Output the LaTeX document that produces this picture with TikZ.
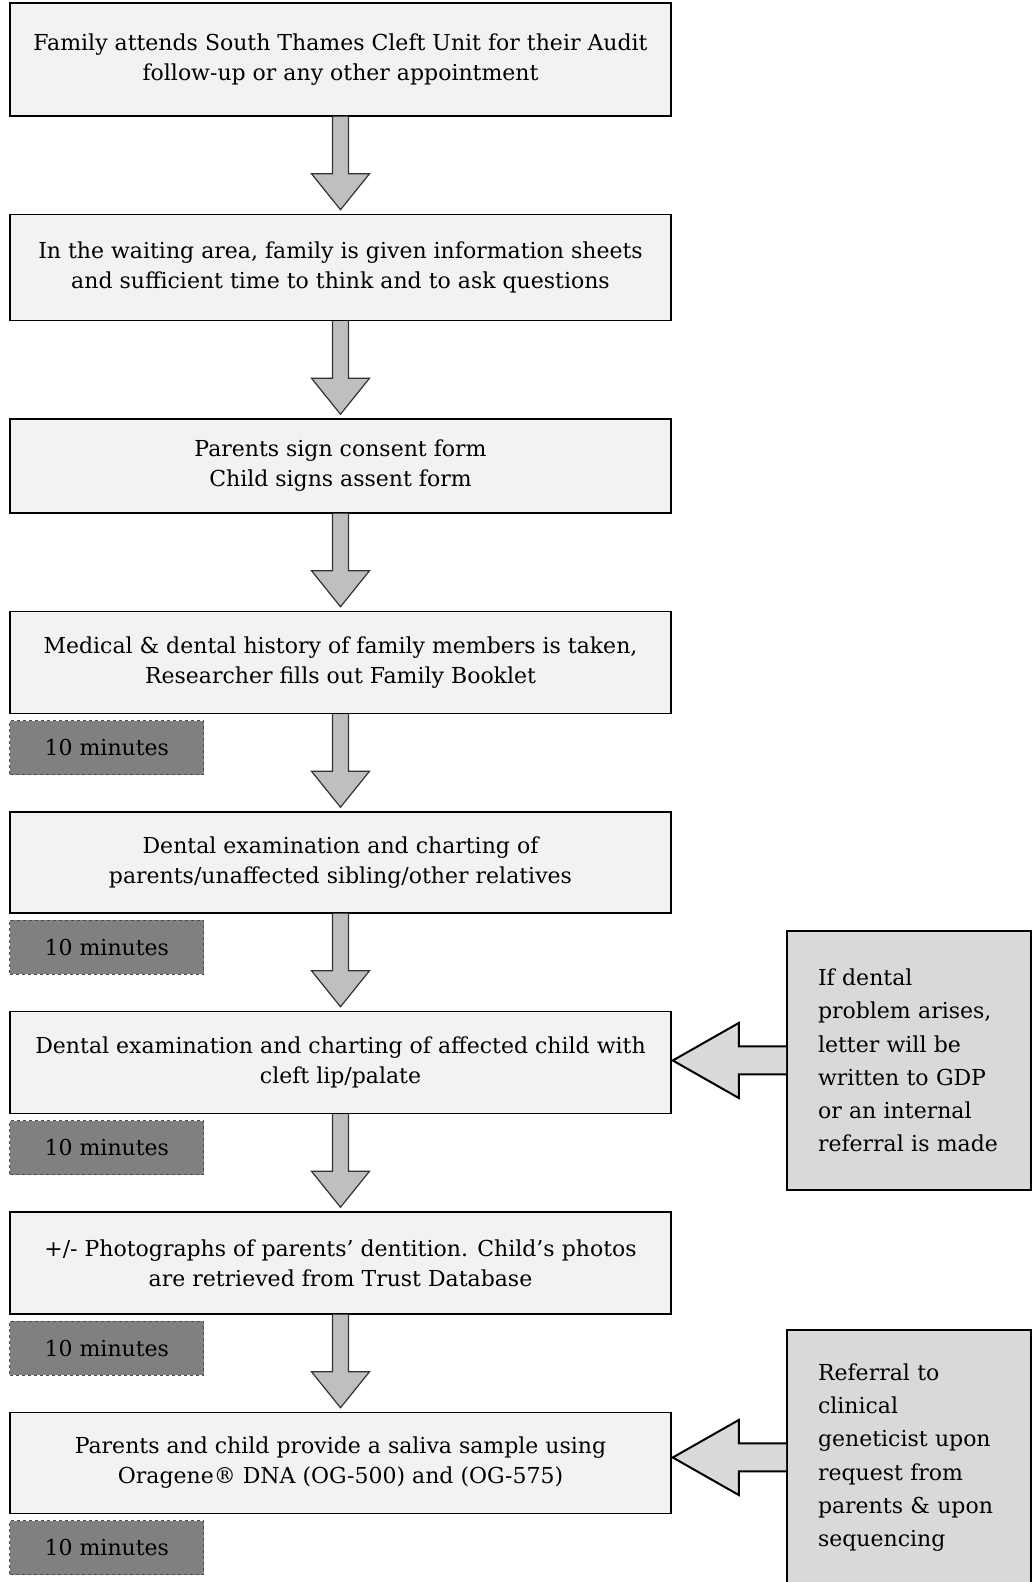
\documentclass[tikz,border=0pt]{standalone}
\usepackage{fontspec}
\setmainfont{DejaVu Serif}
\usetikzlibrary{positioning,calc}
\definecolor{boxF}{RGB}{242,242,242}
\definecolor{arrF}{RGB}{191,191,191}
\definecolor{timeF}{RGB}{128,128,128}
\definecolor{sideF}{RGB}{217,217,217}

\tikzset{
  stepbox/.style={draw=black,line width=1.5pt,fill=boxF,minimum width=661pt,align=center,inner sep=0pt,
    font=\fontsize{22}{30}\selectfont},
  timebox/.style={draw=black!70,dashed,line width=1.2pt,fill=timeF,minimum width=194pt,minimum height=54pt,
    inner sep=0pt,font=\fontsize{22}{30}\selectfont},
  sidebox/.style={draw=black,line width=2pt,fill=sideF,minimum width=244pt,text width=182pt,align=left,
    inner sep=0pt,font=\fontsize{22}{33.3}\selectfont},
  downarr/.style={draw=black!80,line width=1.2pt,fill=arrF},
  sidearr/.style={draw=black,line width=2pt,fill=sideF}
}
% block arrow from the bottom of #1 down to the top of #2
\newcommand{\blockdown}[2]{%
  \draw[downarr] let \p1=(#1.south), \p2=(#2.north) in
    (\x1-8pt,\y1) -- (\x1-8pt,\y2+40pt) -- (\x1-29pt,\y2+40pt) -- (\x1,\y2+4pt)
    -- (\x1+29pt,\y2+40pt) -- (\x1+8pt,\y2+40pt) -- (\x1+8pt,\y1);}
% block arrow from side note #1 to the right side of #2
\newcommand{\blockleft}[2]{%
  \draw[sidearr] let \p1=(#1.west), \p2=(#2.east) in
    (\x1,\y1+14pt) -- (\x2+67pt,\y1+14pt) -- (\x2+67pt,\y1+37.5pt) -- (\x2+1pt,\y1)
    -- (\x2+67pt,\y1-37.5pt) -- (\x2+67pt,\y1-14pt) -- (\x1,\y1-14pt);}

\begin{document}
\begin{tikzpicture}[x=1pt,y=1pt,node distance=97pt]
\useasboundingbox (0,0) rectangle (1032,1582);

% main steps
\node[stepbox,minimum height=113pt] (b1) at (340.5,1522.5) {Family attends South Thames Cleft Unit for their Audit\\follow-up or any other appointment};
\node[stepbox,minimum height=106pt,below=of b1] (b2) {In the waiting area, family is given information sheets\\and sufficient time to think and to ask questions};
\node[stepbox,minimum height=94pt,below=of b2] (b3) {Parents sign consent form\\Child signs assent form};
\node[stepbox,minimum height=102pt,below=of b3] (b4) {Medical \& dental history of family members is taken,\\Researcher fills out Family Booklet};
\node[stepbox,minimum height=101pt,below=of b4] (b5) {Dental examination and charting of\\parents/unaffected sibling/other relatives};
\node[stepbox,minimum height=102pt,below=of b5] (b6) {Dental examination and charting of affected child with\\cleft lip/palate};
\node[stepbox,minimum height=102pt,below=of b6] (b7) {+/- Photographs of parents’ dentition. Child’s photos\\are retrieved from Trust Database};
\node[stepbox,minimum height=101pt,below=of b7] (b8) {Parents and child provide a saliva sample using\\Oragene® DNA (OG-500) and (OG-575)};

% time boxes
\foreach \b in {4,...,8}
  \node[timebox,below=6pt of b\b.south west,anchor=north west] (t\b) {10 minutes};

% side notes
\node[sidebox,minimum height=259pt] (s1) at (909,521.5) {If dental\\problem arises,\\letter will be\\written to GDP\\or an internal\\referral is made};
\node[sidebox,minimum height=255pt] (s2) at (909,124.5) {Referral to\\clinical\\geneticist upon\\request from\\parents \& upon\\sequencing};

% arrows
\foreach \a/\b in {b1/b2,b2/b3,b3/b4,b4/b5,b5/b6,b6/b7,b7/b8}
  \blockdown{\a}{\b};
\blockleft{s1}{b6}
\blockleft{s2}{b8}
\end{tikzpicture}
\end{document}
